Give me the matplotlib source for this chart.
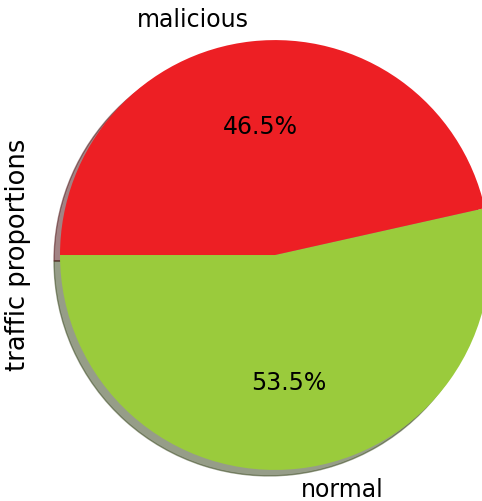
import matplotlib
matplotlib.use("Agg")
from matplotlib import pyplot as plt

labels = ["normal", "malicious"]
shares = [53.5, 46.5]
colors = ["#9acb3c", "#ed1f24"]

fig = plt.figure(figsize=(4.82, 5.01), dpi=100)
ax = fig.add_axes([0.1245, 0.062, 0.892, 0.858])

ax.pie(shares, labels=labels, colors=colors, autopct="%1.1f%%",
       startangle=180, shadow=True, textprops={"fontsize": 17})
ax.set_xlim(-1.0, 1.0)
ax.set_ylim(-1.0, 1.0)
ax.set_aspect("auto")
ax.set_ylabel("traffic proportions", fontsize=18.5)
ax.yaxis.set_label_coords(-0.068, 0.5)

fig.savefig("out.png", dpi=100)
